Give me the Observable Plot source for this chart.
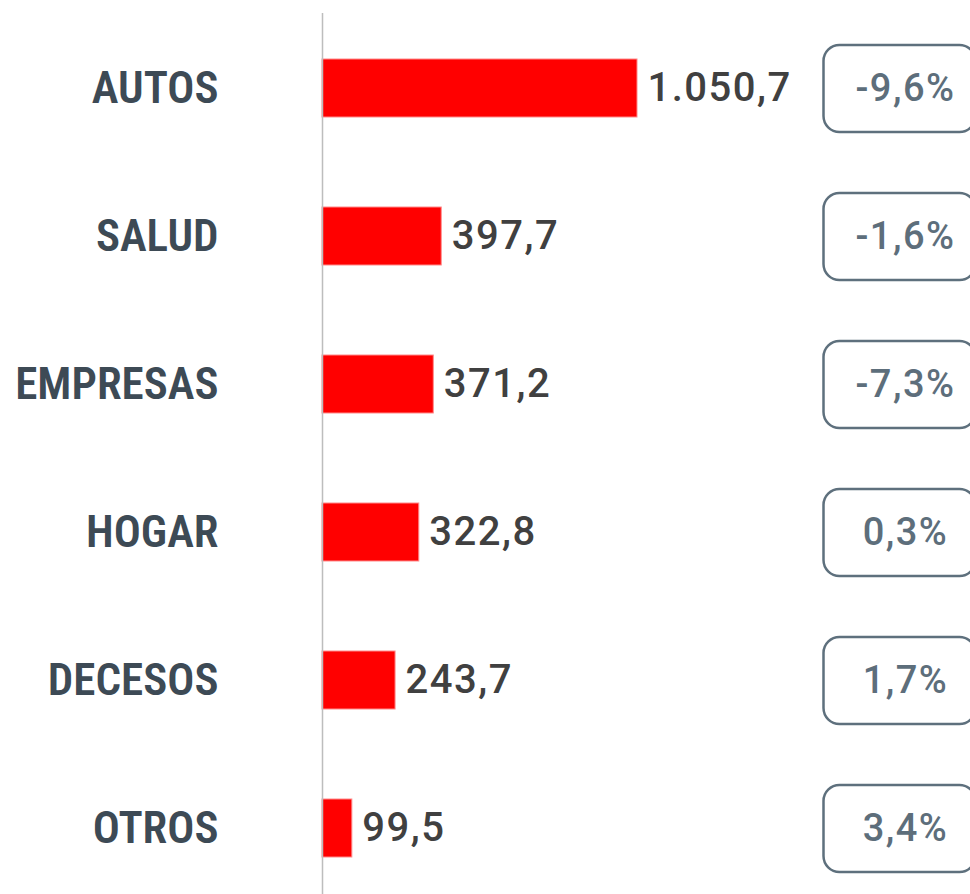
<!DOCTYPE html>
<html>
<head>
<meta charset="utf-8">
<script src="https://cdn.jsdelivr.net/npm/d3@7"></script>
<script src="https://cdn.jsdelivr.net/npm/@observablehq/plot@0.6"></script>
<style>
  html, body { margin: 0; padding: 0; background: #ffffff; }
  #chart { width: 970px; height: 894px; overflow: hidden; }
  .num text { letter-spacing: 1.5px; }
</style>
</head>
<body>
<div id="chart"></div>
<script>
const categories = ["AUTOS", "SALUD", "EMPRESAS", "HOGAR", "DECESOS", "OTROS"];
const values = [1050.7, 397.7, 371.2, 322.8, 243.7, 99.5];
const changes = [-9.6, -1.6, -7.3, 0.3, 1.7, 3.4];

const locale = d3.formatLocale({decimal: ",", thousands: ".", grouping: [3], currency: ["", " €"], minus: "-"});
const fmtValue = locale.format(",.1f");
const fmtChange = (v) => locale.format(".1f")(v) + "%";

const data = categories.map((c, i) => ({category: c, value: values[i], change: changes[i]}));

const W = 970, H = 894;
const boxW = 152, boxH = 87, boxR = 16;
const roundedBox = {
  draw(context) {
    const x0 = -boxW / 2, y0 = -boxH / 2, x1 = boxW / 2, y1 = boxH / 2, r = boxR;
    context.moveTo(x0 + r, y0);
    context.lineTo(x1 - r, y0);
    context.arcTo(x1, y0, x1, y0 + r, r);
    context.lineTo(x1, y1 - r);
    context.arcTo(x1, y1, x1 - r, y1, r);
    context.lineTo(x0 + r, y1);
    context.arcTo(x0, y1, x0, y1 - r, r);
    context.lineTo(x0, y0 + r);
    context.arcTo(x0, y0, x0 + r, y0, r);
    context.closePath();
  }
};

const chart = Plot.plot({
  width: W,
  height: H,
  marginTop: 13,
  marginBottom: 0,
  marginLeft: 0,
  marginRight: 0,
  style: {background: "#ffffff", fontFamily: "Roboto, 'Liberation Sans', sans-serif"},
  x: {domain: [0, 1050.7], range: [322, 637], axis: null},
  y: {domain: categories, range: [13, 902], paddingInner: 0.61, paddingOuter: 0.305, axis: null},
  marks: [
    Plot.barX(data, {y: "category", x: "value", fill: "#ff0000", stroke: "#ff8a8a", strokeWidth: 1}),
    Plot.ruleX([0], {stroke: "#bdbdbd", strokeWidth: 1.5}),
    Plot.text(data, {
      y: "category", x: "value", text: (d) => fmtValue(d.value),
      dx: 10, textAnchor: "start", lineAnchor: "middle",
      fontSize: 40, fontWeight: 500, fill: "#404040",
      fontFamily: "Roboto, sans-serif", className: "num"
    }),
    Plot.text(data, {
      y: "category", text: "category", frameAnchor: "left",
      dx: 218, textAnchor: "end", lineAnchor: "middle",
      fontSize: 45, fontWeight: 600, fill: "#3d4a55",
      fontFamily: "'Liberation Sans Narrow', 'Roboto Condensed', 'DejaVu Sans Condensed', sans-serif"
    }),
    Plot.dot(data, {
      y: "category", frameAnchor: "right", dx: -(W - 899),
      symbol: roundedBox, r: 10, fill: "none", stroke: "#5e707d", strokeWidth: 2.5
    }),
    Plot.text(data, {
      y: "category", text: (d) => fmtChange(d.change), frameAnchor: "right",
      dx: -(W - 905), textAnchor: "middle", lineAnchor: "middle",
      fontSize: 38, fontWeight: 500, fill: "#5d6e7b",
      fontFamily: "Roboto, sans-serif", className: "num"
    })
  ]
});

document.getElementById("chart").appendChild(chart);
</script>
</body>
</html>
